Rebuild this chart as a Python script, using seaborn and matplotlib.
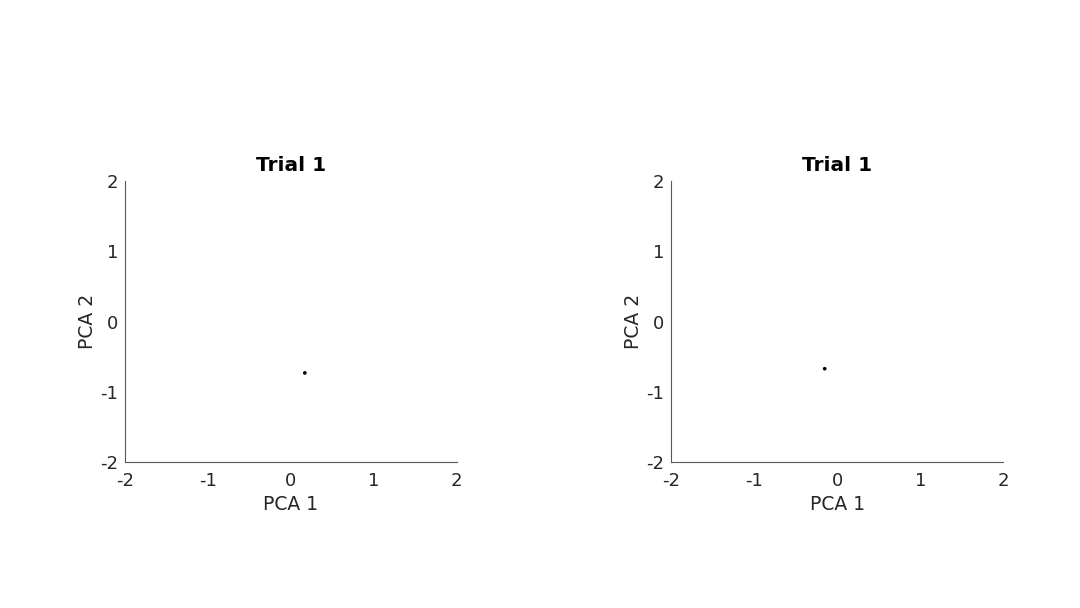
"""Two PCA scatter panels (Trial 1), MATLAB-like look."""
import matplotlib
matplotlib.use("Agg")
import matplotlib.pyplot as plt
import pandas as pd
import seaborn as sns

# data
panel_titles = ["Trial 1", "Trial 1"]
pca1_values = [[0.17], [-0.15]]
pca2_values = [[-0.73], [-0.67]]
tick_values = [-2, -1, 0, 1, 2]

sns.set_style("white")
plt.rcParams["font.family"] = ["DejaVu Sans"]

fig = plt.figure(figsize=(10.8, 6.08), dpi=100)
positions = [[0.1157, 0.240, 0.307, 0.462], [0.6213, 0.240, 0.3077, 0.462]]

for pos, title, xs, ys in zip(positions, panel_titles, pca1_values, pca2_values):
    ax = fig.add_axes(pos)
    df = pd.DataFrame({"PCA 1": xs, "PCA 2": ys})
    sns.scatterplot(data=df, x="PCA 1", y="PCA 2", ax=ax, color="black",
                    s=7, marker="o", edgecolor="none")
    ax.set_xlim(-2, 2)
    ax.set_ylim(-2, 2)
    ax.set_xticks(tick_values)
    ax.set_yticks(tick_values)
    ax.set_xticklabels([str(t) for t in tick_values])
    ax.set_yticklabels([str(t) for t in tick_values])
    ax.set_title(title, fontsize=14.5, fontweight="bold", color="black", pad=7)
    ax.set_xlabel("PCA 1", fontsize=13.5, color="#262626", labelpad=3)
    ax.set_ylabel("PCA 2", fontsize=13.5, color="#262626", labelpad=2)
    sns.despine(ax=ax)
    for side in ["left", "bottom"]:
        ax.spines[side].set_color("#5a5a5a")
        ax.spines[side].set_linewidth(0.8)
    ax.tick_params(direction="in", length=3, width=0.6, color="#5a5a5a",
                   labelsize=13, labelcolor="#262626")
    ax.tick_params(axis="x", pad=7.5)
    ax.tick_params(axis="y", pad=5)

plt.savefig("out.png", dpi=100)
plt.close()
